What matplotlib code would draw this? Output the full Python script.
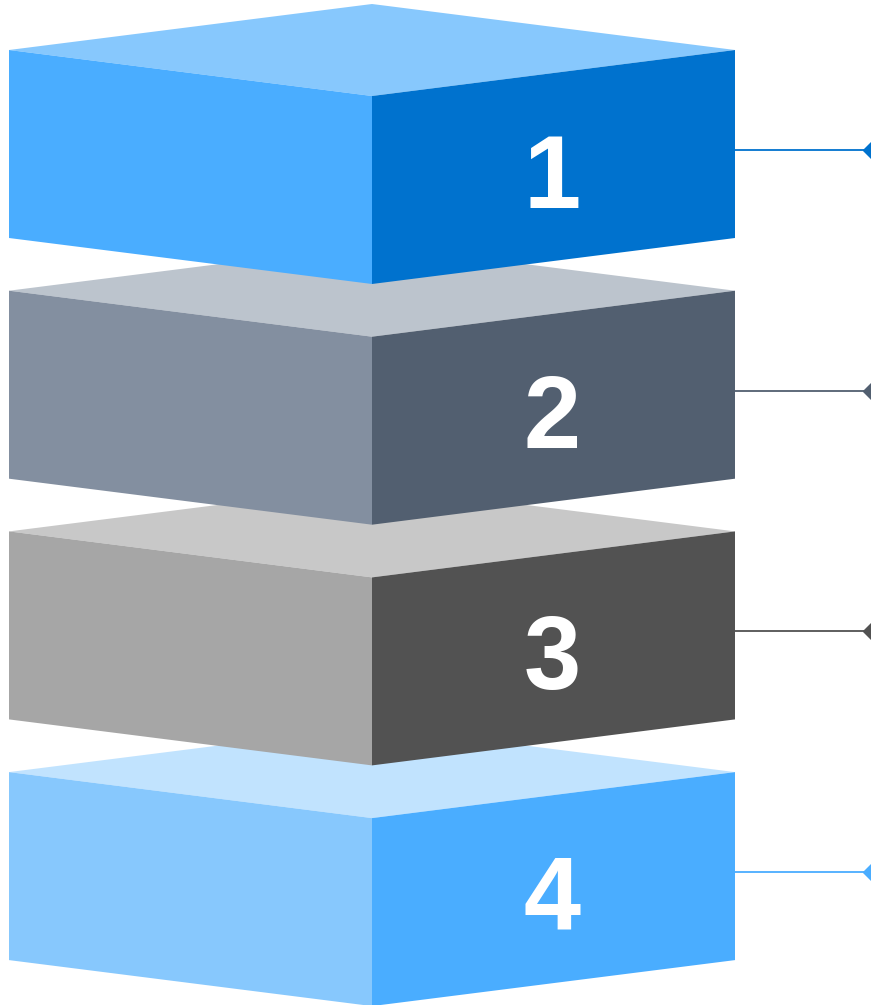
import matplotlib
matplotlib.use("Agg")
import matplotlib.pyplot as plt
from matplotlib.patches import Polygon

# Stacked 3D blocks, top to bottom
labels = ["1", "2", "3", "4"]
top_colors = ["#87c8fd", "#bcc4cd", "#c8c8c8", "#c1e3fe"]
left_colors = ["#4aadff", "#838fa0", "#a6a6a6", "#87c8fd"]
right_colors = ["#0072ce", "#525f70", "#525252", "#4aadff"]
line_colors = ["#0072ce", "#525f70", "#525252", "#4aadff"]

W, H = 871, 1005
x_left, x_mid, x_right = 9, 372, 735
depth = 46        # half depth of the top face
height = 188      # height of side faces
y0, pitch = 50, 240.7
x_end = 873

fig = plt.figure(figsize=(W / 100, H / 100), dpi=100)
ax = fig.add_axes([0, 0, 1, 1])
ax.set_xlim(0, W)
ax.set_ylim(H, 0)
ax.axis("off")

# draw the bottom block first so upper blocks overlap it
for i in reversed(range(len(labels))):
    yt = y0 + i * pitch
    yb = yt + height
    top = [(x_left, yt), (x_mid, yt - depth), (x_right, yt), (x_mid, yt + depth)]
    left = [(x_left, yt), (x_mid, yt + depth), (x_mid, yb + depth), (x_left, yb)]
    right = [(x_mid, yt + depth), (x_right, yt), (x_right, yb), (x_mid, yb + depth)]
    z = 10 - i * 3
    ax.add_patch(Polygon(top, closed=True, fc=top_colors[i], ec="none", zorder=z))
    ax.add_patch(Polygon(left, closed=True, fc=left_colors[i], ec="none", zorder=z))
    ax.add_patch(Polygon(right, closed=True, fc=right_colors[i], ec="none", zorder=z))

    yline = yt + 100
    ax.plot([x_right, x_end], [yline, yline], color=line_colors[i], lw=1.3, zorder=20)
    ax.plot([x_end], [yline], marker="D", ms=10, color=line_colors[i], clip_on=False, zorder=21)

    ax.text(552, yt + 131, labels[i],
            color="white", fontsize=74, fontweight="bold", family="Liberation Sans",
            ha="center", va="center", zorder=22)

fig.savefig("out.png", dpi=100)
